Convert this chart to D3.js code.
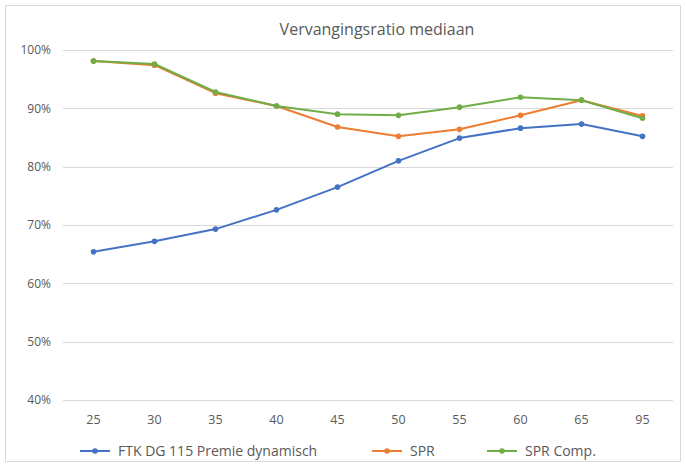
<!DOCTYPE html>
<html><head><meta charset="utf-8">
<script src="https://d3js.org/d3.v7.min.js"></script>
<style>body{margin:0;background:#fff;} text{font-family:"Open Sans","Noto Sans",sans-serif;}</style>
</head><body><svg id="c" width="686" height="466"></svg>
<script>
const categories = ["25","30","35","40","45","50","55","60","65","95"];
const seriesNames = ["FTK DG 115 Premie dynamisch","SPR","SPR Comp."];
const ftk = [65.4,67.2,69.3,72.6,76.5,81.0,84.9,86.6,87.3,85.2];
const spr = [98.1,97.4,92.6,90.4,86.8,85.2,86.4,88.8,91.4,88.7];
const sprComp = [98.1,97.6,92.8,90.4,89.0,88.8,90.2,91.9,91.4,88.3];
const yTicks = [40,50,60,70,80,90,100];
const colors = ["#4472C4","#ED7D31","#70AD47"];
const title = "Vervangingsratio mediaan";

const svg = d3.select("#c");
svg.append("rect").attr("x",5.5).attr("y",5.5).attr("width",675).attr("height",456)
  .attr("fill","#fff").attr("stroke","#D9D9D9");

const x = d3.scaleBand().domain(categories).range([63,673]);
const y = d3.scaleLinear().domain([40,100]).range([400,50]);

svg.append("g").selectAll("line").data(yTicks).join("line")
  .attr("x1",63).attr("x2",673).attr("y1",d=>Math.round(y(d))+0.5).attr("y2",d=>Math.round(y(d))+0.5)
  .attr("stroke","#D9D9D9").attr("stroke-width",1);

const yAxis = svg.append("g").attr("transform","translate(51,0)")
  .call(d3.axisLeft(y).tickValues(yTicks).tickFormat(d=>d+"%").tickSize(0).tickPadding(0));
yAxis.select(".domain").remove();
yAxis.selectAll("text").attr("fill","#595959").style("font-size","12px");

const xAxis = svg.append("g").attr("transform","translate(0,400)")
  .call(d3.axisBottom(x).tickSize(0).tickPadding(15));
xAxis.select(".domain").remove();
xAxis.selectAll("text").attr("fill","#595959").style("font-size","12.5px");

const data = [ftk, spr, sprComp];
const line = d3.line().x((d,i)=>x(categories[i])+x.bandwidth()/2).y(d=>y(d));
data.forEach((s,k)=>{
  svg.append("path").datum(s).attr("d",line).attr("fill","none")
    .attr("stroke",colors[k]).attr("stroke-width",2).attr("stroke-linejoin","round");
  svg.append("g").selectAll("circle").data(s).join("circle")
    .attr("cx",(d,i)=>x(categories[i])+x.bandwidth()/2).attr("cy",d=>y(d)).attr("r",2.8)
    .attr("fill",colors[k]);
});

svg.append("text").attr("x",377).attr("y",35).attr("text-anchor","middle")
  .attr("fill","#595959").style("font-size","16px").text(title);

const legX = [80,372,487];
seriesNames.forEach((n,k)=>{
  const g = svg.append("g").attr("transform",`translate(${legX[k]},451)`);
  g.append("line").attr("x1",0).attr("x2",30).attr("stroke",colors[k]).attr("stroke-width",2);
  g.append("circle").attr("cx",15).attr("r",2.8).attr("fill",colors[k]);
  g.append("text").attr("x",38).attr("y",5).attr("fill","#595959").style("font-size","14px").text(n);
});
</script></body></html>
